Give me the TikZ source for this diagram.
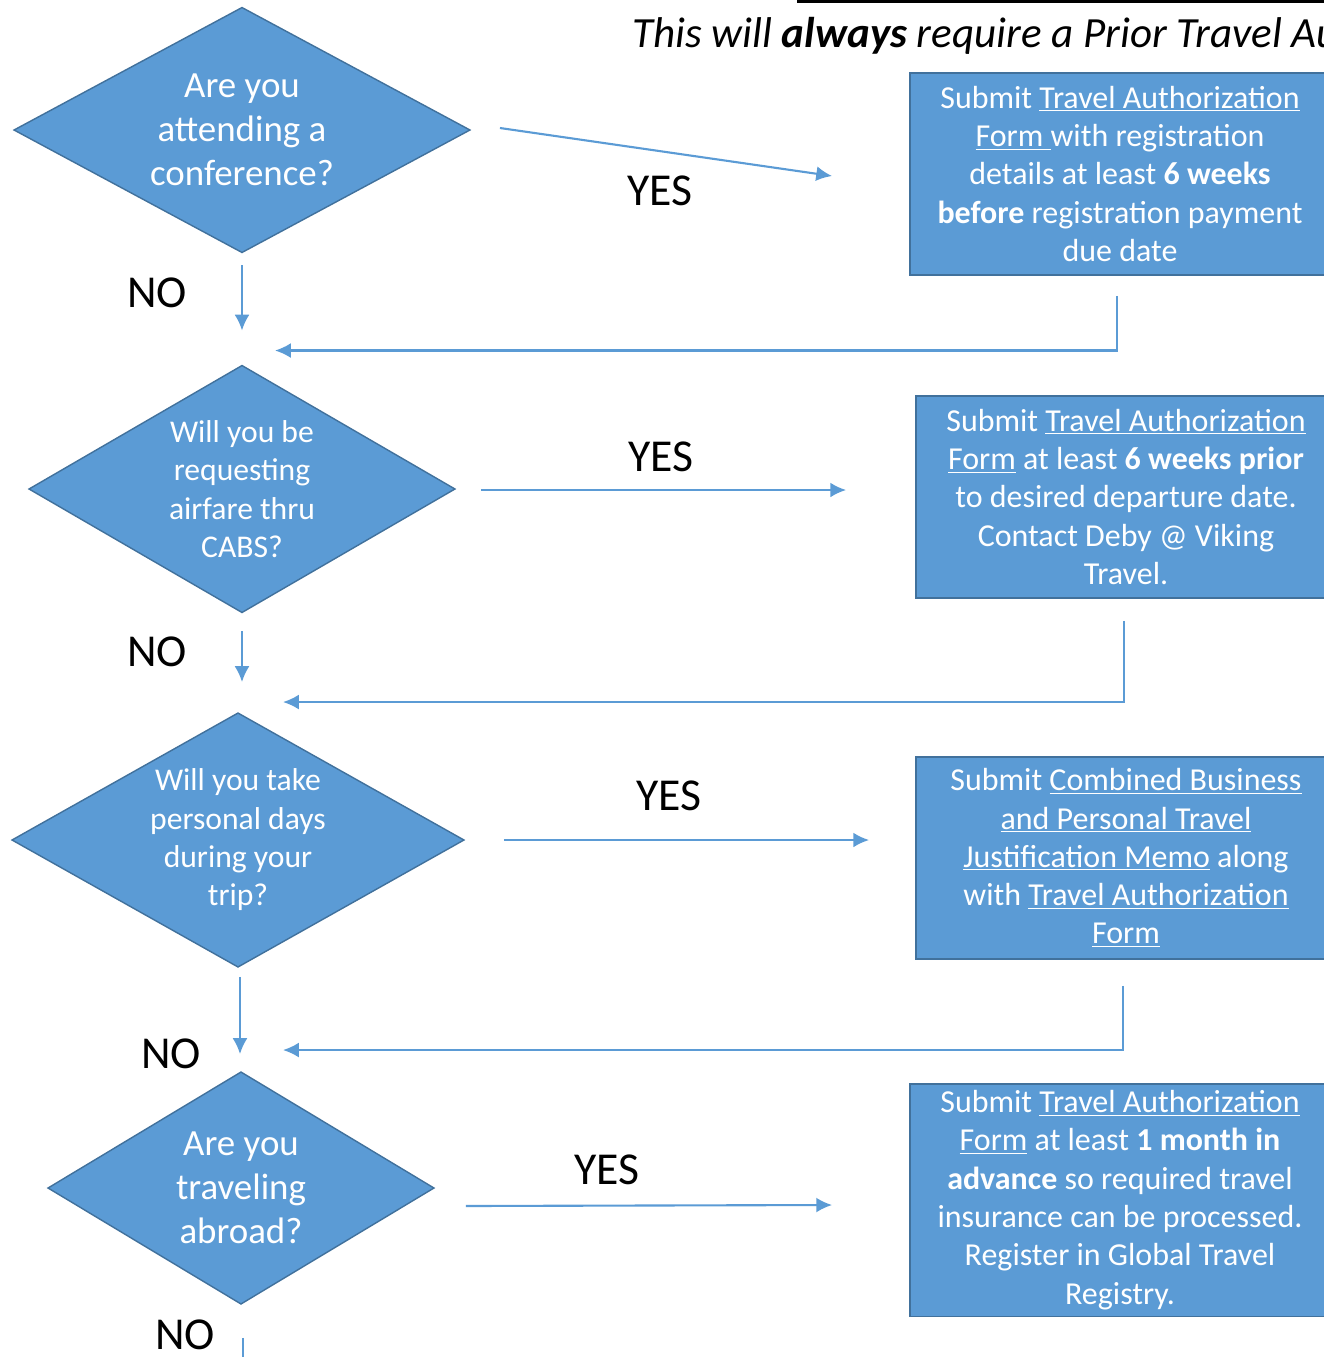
\documentclass[tikz,border=0pt]{standalone}
\usepackage{fontspec}
\setmainfont{Carlito}
\usetikzlibrary{shapes.geometric,arrows.meta,calc}
\definecolor{flowblue}{HTML}{5B9BD5}
\definecolor{edgeblue}{HTML}{41719C}
\newcommand{\formlink}[1]{\underline{\smash{#1}}}

\begin{document}
\begin{tikzpicture}[x=0.02cm,y=-0.02cm,
    decision/.style={diamond, fill=flowblue, draw=edgeblue, line width=0.8pt,
        text=white, align=center, inner sep=0pt, outer sep=0pt},
    bigq/.style={font=\fontsize{21}{25.2}\selectfont},
    smallq/.style={font=\fontsize{18}{21.8}\selectfont},
    action/.style={rectangle, fill=flowblue, draw=edgeblue, line width=1.1pt,
        text=white, align=center, inner sep=0pt, minimum width=8.4cm,
        minimum height=4.04cm, font=\fontsize{18.2}{21.8}\selectfont},
    flow/.style={draw=flowblue, line width=1.2pt, -{Latex[length=9pt,width=8.5pt]}},
    answer/.style={font=\fontsize{26}{30}\selectfont}]
    \useasboundingbox (0,0) rectangle (1324,1357);

    % Nota superior
    \draw[line width=1.7pt] (797,1) -- (1330,1);
    \node[anchor=base west, inner sep=0pt, font=\fontsize{24.5}{28}\selectfont\itshape] (note) at (632,47)
        {This will \textbf{always} require a Prior Travel Authorization};

    % Preguntas
    \node[decision, bigq, aspect=1.86, minimum width=9.12cm, minimum height=4.9cm] (q1) at (242,130)
        {Are you\\attending a\\conference?};
    \node[decision, smallq, aspect=1.72, minimum width=8.52cm, minimum height=4.94cm] (q2) at (242,489)
        {Will you be\\requesting\\airfare thru\\CABS?};
    \node[decision, smallq, aspect=1.78, minimum width=9.04cm, minimum height=5.08cm] (q3) at (238,840)
        {Will you take\\personal days\\during your\\trip?};
    \node[decision, bigq, aspect=1.66, minimum width=7.72cm, minimum height=4.64cm] (q4) at (241,1188)
        {Are you\\traveling\\abroad?};

    % Acciones
    \node[action] (a1) at (1120,174)
        {Submit \formlink{Travel Authorization}\\
         \formlink{Form\ }with registration\\
         details at least \textbf{6 weeks}\\
         \textbf{before} registration payment\\
         due date};
    \node[action] (a2) at (1126,497)
        {Submit \formlink{Travel Authorization}\\
         \formlink{Form} at least \textbf{6 weeks prior}\\
         to desired departure date.\\
         Contact Deby @ Viking\\
         Travel.};
    \node[action] (a3) at (1126,858)
        {Submit \formlink{Combined Business}\\
         \formlink{and Personal Travel}\\
         \formlink{Justification Memo} along\\
         with \formlink{Travel Authorization}\\
         \formlink{Form}};
    \node[action, minimum height=4.66cm] (a4) at (1120,1200)
        {Submit \formlink{Travel Authorization}\\
         \formlink{Form} at least \textbf{1 month in}\\
         \textbf{advance} so required travel\\
         insurance can be processed.\\
         Register in Global Travel\\
         Registry.};

    % Flechas SI
    \draw[flow] ($(q1.east)+(30,-2)$) -- ($(a1.west)+(-77,2)$);
    \draw[flow] ($(q2.east)+(26,1)$) -- ($(a2.west)+(-69,-7)$);
    \draw[flow] ($(q3.east)+(40,0)$) -- ($(a3.west)+(-46,-18)$);
    \draw[flow] ($(q4.east)+(32,18)$) -- ($(a4.west)+(-77,5)$);
    \node[answer] (yes1) at (660,191) {YES};
    \node[answer] (yes2) at (661,457) {YES};
    \node[answer] (yes3) at (669,796) {YES};
    \node[answer] (yes4) at (607,1170) {YES};

    % Flechas NO
    \draw[flow] ($(q1.south)+(0,13)$) -- ($(q2.north)+(0,-35)$);
    \draw[flow] ($(q2.south)+(0,19)$) -- ($(q3.north)+(4,-31)$);
    \draw[flow] ($(q3.south)+(2,10)$) -- ($(q4.north)+(-1,-18)$);
    \draw[flow] ($(q4.south)+(2,34)$) -- ++(0,80);
    \node[answer] (no1) at (157,293) {NO};
    \node[answer] (no2) at (157,652) {NO};
    \node[answer] (no3) at (171,1054) {NO};
    \node[answer] (no4) at (185,1335) {NO};

    % Retornos
    \draw[flow] ($(a1.south)+(-3,20)$) |- ($(q2.north)+(33,-15)$);
    \draw[flow] ($(a2.south)+(-2,22)$) |- ($(q3.north)+(45,-11)$);
    \draw[flow] ($(a3.south)+(-3,26)$) |- ($(q4.north)+(42,-22)$);
\end{tikzpicture}
\end{document}
